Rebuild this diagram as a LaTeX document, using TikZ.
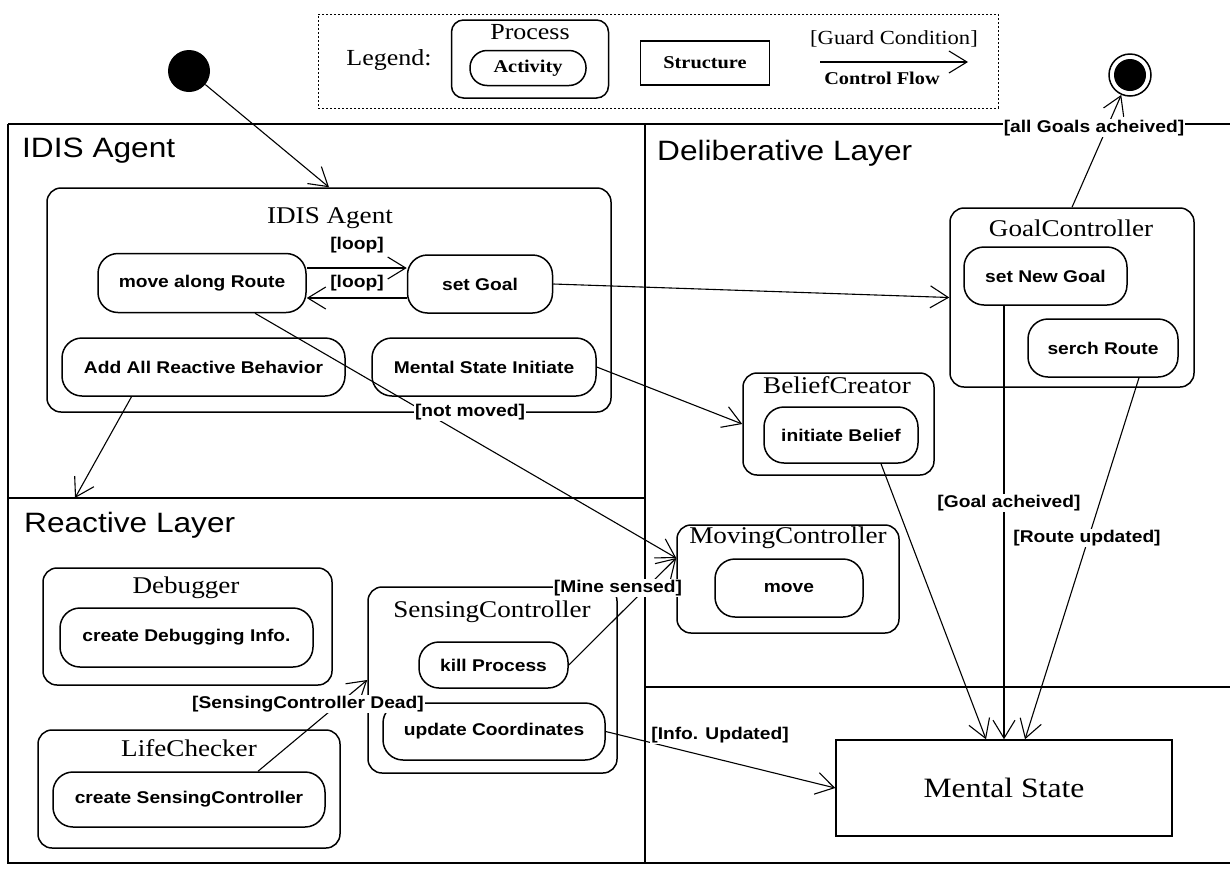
\documentclass[tikz,border=0pt]{standalone}
\usepackage{fontspec}
\usetikzlibrary{arrows.meta}
\newfontfamily\arialf{Liberation Sans}[FakeStretch=1.13]
\newfontfamily\timesf{Liberation Serif}[FakeStretch=1.13]
\tikzset{
  frameline/.style={line width=2pt},
  proc/.style={draw, line width=1.5pt, rounded corners=14pt, inner sep=0pt},
  act/.style={draw, line width=1.5pt, rounded corners=20pt, inner sep=0pt,
    font=\arialf\bfseries\fontsize{17}{19}\selectfont},
  ptitle/.style={font=\timesf\fontsize{24}{26}\selectfont, inner sep=0pt},
  heading/.style={font=\arialf\fontsize{28}{30}\selectfont, anchor=base west, inner sep=0pt},
  guard/.style={font=\arialf\bfseries\fontsize{17}{19}\selectfont, fill=white, inner sep=1pt},
  flow/.style={line width=1.1pt, -{Straight Barb[length=18pt,width=22pt,line width=1.1pt]}},
}
\begin{document}
\begin{tikzpicture}[x=1pt,y=-1pt]
\useasboundingbox[fill=white] (0,0) rectangle (1230,868);

% frame
\draw[frameline] (8,124) -- (1230,124);
\draw[frameline] (8,124) -- (8,863) -- (1230,863);
\draw[frameline] (645,124) -- (645,863);
\draw[frameline] (8,498) -- (645,498);
\draw[frameline] (645,687) -- (1230,687);

\node[heading] (hIdis) at (22,157) {IDIS Agent};
\node[heading] (hDel) at (657,160) {Deliberative Layer};
\node[heading] (hRea) at (24,532) {Reactive Layer};

% legend
\node[draw, dash pattern=on 2pt off 2pt, line width=1pt, minimum width=680pt, minimum height=94pt] (legend) at (658,61) {};
\node[font=\timesf\fontsize{23}{25}\selectfont, inner sep=0pt] (legT) at (389,60) {Legend:};
\node[proc, rounded corners=12pt, minimum width=157pt, minimum height=78pt] (legP) at (530,59) {};
\node[font=\timesf\fontsize{23}{25}\selectfont, inner sep=0pt] (legPT) at (530,32) {Process};
\node[draw, line width=1.5pt, rounded corners=17pt, minimum width=116pt, minimum height=35pt, inner sep=0pt,
  font=\timesf\bfseries\fontsize{18}{20}\selectfont] (legA) at (528,68) {Activity};
\node[draw, line width=1.5pt, minimum width=129pt, minimum height=44pt, inner sep=0pt,
  font=\timesf\bfseries\fontsize{18}{20}\selectfont] (legS) at (705,63) {Structure};
\coordinate (legF1) at (820,62);
\coordinate (legF2) at (968,62);
\draw[flow] (legF1) -- (legF2);
\node[font=\timesf\fontsize{20}{22}\selectfont, inner sep=0pt] (legG) at (894,39) {[Guard Condition]};
\node[font=\timesf\bfseries\fontsize{18}{20}\selectfont, inner sep=0pt] (legC) at (882,78) {Control Flow};

% initial and final states
\node[circle, fill, minimum size=42pt, inner sep=0pt] (start) at (189,71) {};
\node[circle, draw, line width=1.5pt, minimum size=42pt, inner sep=0pt] (end) at (1130,75) {};
\node[circle, fill, minimum size=32pt, inner sep=0pt] (endI) at (1130,75) {};

% IDIS Agent
\node[proc, minimum width=564pt, minimum height=224pt] (idis) at (329,300) {};
\node[ptitle] (idisT) at (330,218) {IDIS Agent};
\node[act, minimum width=208pt, minimum height=59pt] (moveR) at (202,283) {move along Route};
\node[act, minimum width=145pt, minimum height=58pt] (setG) at (480,284) {set Goal};
\node[act, minimum width=283pt, minimum height=58pt] (addR) at (203.5,367) {Add All Reactive Behavior};
\node[act, minimum width=224pt, minimum height=58pt] (msInit) at (484,367) {Mental State Initiate};

% Deliberative
\node[proc, minimum width=244pt, minimum height=179pt] (goalC) at (1072,297.5) {};
\node[ptitle] (goalCT) at (1071,228) {GoalController};
\node[act, minimum width=163pt, minimum height=58pt] (setNG) at (1045.5,276) {set New Goal};
\node[act, minimum width=150pt, minimum height=58pt] (serchR) at (1103,348) {serch Route};
\node[proc, minimum width=191pt, minimum height=102pt] (belief) at (838.5,424) {};
\node[ptitle] (beliefT) at (837,385) {BeliefCreator};
\node[act, minimum width=154pt, minimum height=56pt] (initB) at (841,435) {initiate Belief};
\node[proc, minimum width=222pt, minimum height=108pt] (movC) at (788,579) {};
\node[ptitle] (movCT) at (788,538) {MovingController};
\node[act, minimum width=148pt, minimum height=58pt] (move) at (789,588) {move};
\node[draw, line width=1.5pt, minimum width=336pt, minimum height=96pt, inner sep=0pt,
  font=\timesf\fontsize{28}{30}\selectfont] (mental) at (1004,788) {Mental State};

% Reactive
\node[proc, minimum width=289pt, minimum height=117pt] (debug) at (187.5,626.5) {};
\node[ptitle] (debugT) at (186,588) {Debugger};
\node[act, minimum width=253pt, minimum height=59pt] (createD) at (186.5,637.5) {create Debugging Info.};
\node[proc, minimum width=302pt, minimum height=118pt] (life) at (189,789) {};
\node[ptitle] (lifeT) at (189,748) {LifeChecker};
\node[act, minimum width=272pt, minimum height=55pt] (createSC) at (189,799.5) {create SensingController};
\node[proc, minimum width=249pt, minimum height=186pt] (sensC) at (492.5,680) {};
\node[ptitle] (sensCT) at (492,612) {SensingController};
\node[act, minimum width=149pt, minimum height=46pt] (killP) at (493.5,665) {kill Process};
\node[act, minimum width=222pt, minimum height=57pt] (updC) at (494,731.5) {update Coordinates};

% connectors
\coordinate (reaIn) at (75,498);
\draw[flow] (start) -- (idis.north);
\draw[flow] ([yshift=15pt]moveR.east) -- ([yshift=16pt]setG.west);
\draw[flow] ([yshift=-14pt]setG.west) -- ([yshift=-15pt]moveR.east);
\draw[flow] (setG.east) -- (goalC.west);
\draw[flow] ([xshift=53pt]moveR.south) -- ([yshift=21pt]movC.west);
\draw[flow] (killP.east) -- ([yshift=21pt]movC.west);
\draw[flow] ([xshift=-72pt]addR.south) -- (reaIn);
\draw[flow] (msInit.east) -- (belief.west);
\draw[flow] ([xshift=69pt]createSC.north) -- (sensC.west);
\draw[flow] (updC.east) -- (mental.west);
\draw[flow] ([xshift=40pt]initB.south) -- ([xshift=-18pt]mental.north);
\draw[flow] ([xshift=-41.5pt]setNG.south) -- (mental.north);
\draw[flow] ([xshift=36pt]serchR.south) -- ([xshift=21pt]mental.north);
\draw[flow] (goalC.north) -- (end);

% guard labels
\node[guard] (lLoop1) at (357,245) {[loop]};
\node[guard] (lLoop2) at (357,283) {[loop]};
\node[guard] (lNot) at (470,412) {[not moved]};
\node[guard] (lMine) at (618,588) {[Mine sensed]};
\node[guard] (lDead) at (308,704) {[SensingController Dead]};
\node[guard] (lInfo) at (720,735) {[Info. Updated]};
\node[guard] (lGoal) at (1009,503) {[Goal acheived]};
\node[guard] (lRoute) at (1087,538) {[Route updated]};
\node[guard] (lAll) at (1094,128) {[all Goals acheived]};
\end{tikzpicture}
\end{document}
